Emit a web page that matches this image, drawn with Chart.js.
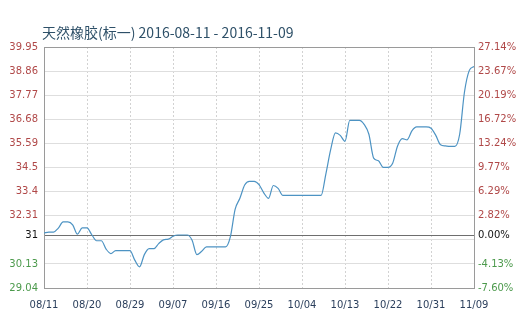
<!DOCTYPE html>
<html>
<head>
<meta charset="utf-8">
<script src="https://cdn.jsdelivr.net/npm/chart.js@4"></script>
<style>
    html, body { margin: 0; padding: 0; background: #fff; }
</style>
</head>
<body>
<canvas id="rubberChart" width="531" height="323"></canvas>
<script>
// 天然橡胶(标一) daily price, 08/11 - 11/09
const titleText = "天然橡胶(标一) 2016-08-11 - 2016-11-09";

const xTickLabels = ["08/11", "08/20", "08/29", "09/07", "09/16", "09/25", "10/04", "10/13", "10/22", "10/31", "11/09"];

const prices = [
    31.53, 31.57, 31.57, 31.75, 32.03, 32.03, 31.90, 31.48, 31.76, 31.76,
    31.45, 31.18, 31.18, 30.80, 30.60, 30.73, 30.73, 30.73, 30.73, 30.30,
    30.00, 30.55, 30.82, 30.82, 31.05, 31.22, 31.25, 31.38, 31.44, 31.44,
    31.44, 31.20, 30.55, 30.70, 30.90, 30.90, 30.90, 30.90, 30.90, 31.35,
    32.60, 33.10, 33.70, 33.87, 33.87, 33.72, 33.35, 33.10, 33.68, 33.55,
    33.23, 33.23, 33.23, 33.23, 33.23, 33.23, 33.23, 33.23, 33.23, 34.21,
    35.30, 36.06, 35.95, 35.68, 36.63, 36.63, 36.63, 36.45, 36.00, 34.92,
    34.80, 34.50, 34.50, 34.70, 35.47, 35.80, 35.75, 36.15, 36.33, 36.33,
    36.33, 36.27, 35.95, 35.52, 35.47, 35.45, 35.45, 36.00, 37.90, 38.88,
    39.07,
];

const baseValue = 31.42;
const yTickValues = [29.04, 30.13, 31.22, 31.42, 32.31, 33.40, 34.50, 35.59, 36.68, 37.77, 38.86, 39.95];
const leftTickLabels = ["29.04", "30.13", "", "31", "32.31", "33.4", "34.5", "35.59", "36.68", "37.77", "38.86", "39.95"];
const rightTickLabels = ["-7.60%", "-4.13%", "", "0.00%", "2.82%", "6.29%", "9.77%", "13.24%", "16.72%", "20.19%", "23.67%", "27.14%"];

const tickFont = { family: "'DejaVu Sans', Verdana, sans-serif", size: 10 };

function tickColor(ctx) {
    const v = ctx.tick ? ctx.tick.value : 0;
    if (v === baseValue) return "#111";
    return v > baseValue ? "#b04848" : "#4c9a4c";
}

//title and plot frame
const framePlugin = {
    id: "framePlugin",
    beforeDatasetsDraw: (chart) => {
        const { ctx, chartArea } = chart;
        ctx.save();
        ctx.strokeStyle = "#9a9a9a";
        ctx.lineWidth = 1;
        ctx.strokeRect(
            Math.round(chartArea.left) + 0.5,
            Math.round(chartArea.top) + 0.5,
            Math.round(chartArea.right - chartArea.left),
            Math.round(chartArea.bottom - chartArea.top)
        );
        ctx.restore();
    },
    afterDraw: (chart) => {
        const ctx = chart.ctx;
        ctx.save();
        ctx.font = "14px 'Noto Sans CJK SC', sans-serif";
        ctx.fillStyle = "#2e5068";
        ctx.textBaseline = "middle";
        ctx.fillText(titleText, 42, 33);
        ctx.restore();
    },
};

new Chart(document.getElementById("rubberChart").getContext("2d"), {
    type: "line",
    data: {
        datasets: [
            {
                data: prices.map((v, i) => ({ x: i, y: v })),
                borderColor: "#4d93c3",
                borderWidth: 1.2,
                pointRadius: 0,
                cubicInterpolationMode: "monotone",
                fill: false,
            },
        ],
    },
    options: {
        responsive: false,
        animation: false,
        devicePixelRatio: 1,
        layout: { padding: { top: 47, left: 0, right: 0, bottom: 0 } },
        plugins: {
            legend: { display: false },
            tooltip: { enabled: false },
        },
        scales: {
            x: {
                type: "linear",
                min: 0,
                max: 90,
                afterFit: (scale) => { scale.height = 35; },
                ticks: {
                    stepSize: 9,
                    autoSkip: false,
                    maxRotation: 0,
                    padding: 11,
                    color: "#2b3f5c",
                    font: tickFont,
                    callback: (v) => xTickLabels[Math.round(v / 9)],
                },
                grid: { color: "#d2d2d2", drawTicks: false },
                border: { display: false, dash: [2, 2] },
            },
            y: {
                type: "linear",
                position: "left",
                min: 29.04,
                max: 39.95,
                afterFit: (scale) => { scale.width = 44; },
                afterBuildTicks: (scale) => {
                    scale.ticks = yTickValues.map((v) => ({ value: v }));
                },
                ticks: {
                    autoSkip: false,
                    padding: 6,
                    color: tickColor,
                    font: tickFont,
                    callback: (v, i) => leftTickLabels[i],
                },
                grid: {
                    drawTicks: false,
                    color: (ctx) => (ctx.tick && ctx.tick.value === baseValue ? "#6e6e6e" : "#dedede"),
                },
                border: { display: false },
            },
            y1: {
                type: "linear",
                position: "right",
                min: 29.04,
                max: 39.95,
                afterFit: (scale) => { scale.width = 57; },
                afterBuildTicks: (scale) => {
                    scale.ticks = yTickValues.map((v) => ({ value: v }));
                },
                ticks: {
                    autoSkip: false,
                    padding: 4,
                    color: tickColor,
                    font: tickFont,
                    callback: (v, i) => rightTickLabels[i],
                },
                grid: { drawOnChartArea: false, drawTicks: false },
                border: { display: false },
            },
        },
    },
    plugins: [framePlugin],
});
</script>
</body>
</html>
